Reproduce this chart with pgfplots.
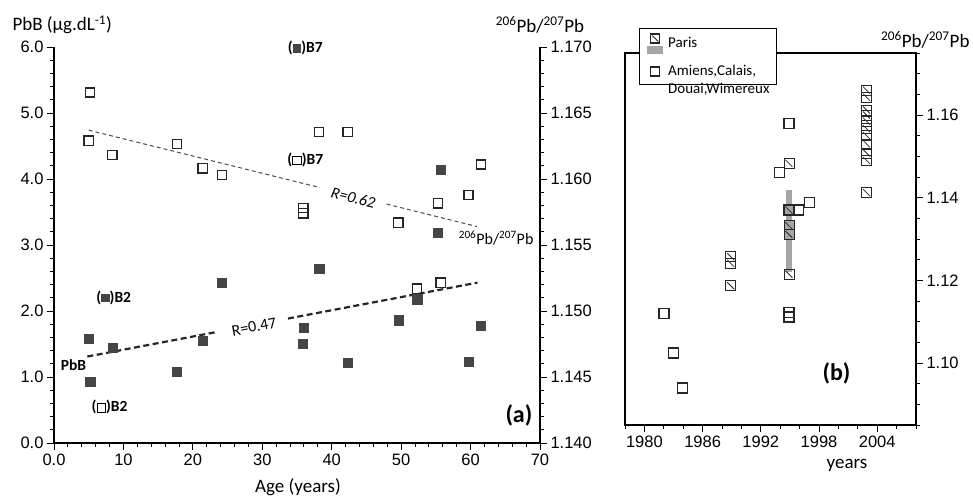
\documentclass[border=0pt]{standalone}
\usepackage{pgfplots}
\pgfplotsset{compat=1.18}
\usepackage{fontspec}
\setmainfont{Carlito}
\newfontfamily\ticksfont{Liberation Sans}
\definecolor{sqgray}{HTML}{454545}
\definecolor{bargray}{HTML}{A6A6A6}
\newcommand\fsq{\textcolor{sqgray}{\rule{8.5pt}{8.5pt}}}
\newcommand\osq{{\setlength\fboxsep{0pt}\setlength\fboxrule{1pt}\fbox{\rule{0pt}{7.5pt}\rule{7.5pt}{0pt}}}}
\newcommand\ratio{\textsuperscript{206}Pb/\textsuperscript{207}Pb}
\pgfdeclareplotmark{hsq}{%
  \pgfpathrectangle{\pgfqpoint{-\pgfplotmarksize}{-\pgfplotmarksize}}{\pgfqpoint{2\pgfplotmarksize}{2\pgfplotmarksize}}%
  \pgfusepathqstroke
  \pgfsetlinewidth{0.8pt}%
  \pgfpathmoveto{\pgfqpoint{-0.7\pgfplotmarksize}{0.7\pgfplotmarksize}}%
  \pgfpathlineto{\pgfqpoint{0.7\pgfplotmarksize}{-0.7\pgfplotmarksize}}%
  \pgfusepathqstroke}
\pgfdeclareplotmark{hsqf}{%
  \pgfpathrectangle{\pgfqpoint{-\pgfplotmarksize}{-\pgfplotmarksize}}{\pgfqpoint{2\pgfplotmarksize}{2\pgfplotmarksize}}%
  \pgfusepathqfillstroke
  \pgfsetlinewidth{0.8pt}%
  \pgfpathmoveto{\pgfqpoint{-0.7\pgfplotmarksize}{0.7\pgfplotmarksize}}%
  \pgfpathlineto{\pgfqpoint{0.7\pgfplotmarksize}{-0.7\pgfplotmarksize}}%
  \pgfusepathqstroke}
\pgfplotsset{
  myaxis/.style={
    scale only axis, tick align=outside,
    major tick length=7pt, minor tick length=4pt,
    every tick/.style={black, line width=0.9pt},
    axis line style={black, line width=1.2pt, -},
    tick label style={font=\ticksfont\fontsize{16.5}{18}\selectfont},
    /pgf/number format/assume math mode=true,
  }
}
\begin{document}
\begin{tikzpicture}
\useasboundingbox (0,0) rectangle (973pt,498pt);
% ---------------- panel (a), left axis: PbB
\begin{axis}[myaxis, at={(54pt,55pt)}, anchor=south west, width=486pt, height=396pt,
  xmin=0, xmax=70, ymin=0, ymax=6,
  axis x line*=bottom, axis y line*=left,
  xtick={0,10,20,30,40,50,60,70}, xticklabels={0.0,10,20,30,40,50,60,70},
  minor x tick num=4,
  ytick={0,1,2,3,4,5,6}, minor y tick num=4,
  yticklabel style={/pgf/number format/fixed, /pgf/number format/fixed zerofill, /pgf/number format/precision=1},
  clip=false]
\addplot[only marks, mark=square*, mark size=4.6pt, mark options={fill=sqgray, draw=sqgray}]
  coordinates {(5.0,1.58) (5.2,0.93) (8.4,1.45) (17.7,1.08) (21.4,1.55) (24.2,2.43)
  (38.2,2.64) (36.0,1.75) (35.8,1.51) (42.3,1.22) (49.6,1.86) (52.3,2.18)
  (55.3,3.19) (55.7,4.14) (59.7,1.23) (61.5,1.78)};
\addplot[black!85, line width=2.2pt, dash pattern=on 6pt off 3.5pt] coordinates {(4.8,1.31) (23.4,1.681)};
\addplot[black!85, line width=2.2pt, dash pattern=on 6pt off 3.5pt] coordinates {(33.7,1.886) (61.0,2.43)};
\node[font=\fontsize{15.5}{18}\selectfont\bfseries] at (axis cs:36.2,5.98) {(\fsq)B7};
\node[font=\fontsize{15.5}{18}\selectfont\bfseries] at (axis cs:36.2,4.29) {(\osq)B7};
\node[font=\fontsize{15.5}{18}\selectfont\bfseries] at (axis cs:8.6,2.20) {(\fsq)B2};
\node[font=\fontsize{15.5}{18}\selectfont\bfseries] at (axis cs:8.0,0.545) {(\osq)B2};
\node[font=\fontsize{15.5}{18}\selectfont\bfseries] at (axis cs:2.8,1.18) {PbB};
\node[rotate=10.7, inner sep=1pt, font=\fontsize{16}{18}\selectfont] at (axis cs:28.8,1.76) {R=0.47};
\node[rotate=-14, inner sep=0pt, font=\fontsize{16}{18}\selectfont\itshape] at (axis cs:43.1,3.72) {R=0.62};
\node[anchor=west, font=\fontsize{16}{18}\selectfont] at (axis cs:57.8,3.11) {\ratio};
\node[anchor=east, font=\fontsize{24}{26}\selectfont\bfseries] at (axis cs:69.4,0.42) {(a)};
\end{axis}
% ---------------- panel (a), right axis: 206Pb/207Pb
\begin{axis}[myaxis, at={(54pt,55pt)}, anchor=south west, width=486pt, height=396pt,
  xmin=0, xmax=70, ymin=1.140, ymax=1.170,
  axis x line=none, axis y line*=right,
  ytick={1.140,1.145,1.150,1.155,1.160,1.165,1.170}, minor y tick num=4,
  yticklabel style={/pgf/number format/fixed, /pgf/number format/fixed zerofill, /pgf/number format/precision=3},
  clip=false]
\addplot[only marks, mark=square, mark size=4.6pt, mark options={draw=black!85, line width=1.3pt}]
  coordinates {(5.2,1.16655) (5.0,1.1629) (8.4,1.1618) (17.7,1.16265) (21.4,1.1608) (24.2,1.1603)
  (38.2,1.16355) (42.3,1.16355) (35.9,1.1578) (35.9,1.1574) (49.6,1.1567) (55.3,1.15815)
  (59.7,1.1588) (61.5,1.1611) (52.3,1.1517) (55.7,1.15215)};
\addplot[black!70, line width=1pt, dash pattern=on 4pt off 3pt] coordinates {(5.0,1.1637) (38.3,1.15935)};
\addplot[black!70, line width=1pt, dash pattern=on 4pt off 3pt] coordinates {(47.9,1.1581) (60.9,1.1564)};
\end{axis}
% ---------------- panel (b)
\begin{axis}[myaxis, at={(625pt,73pt)}, anchor=south west, width=291pt, height=372pt,
  xmin=1978, xmax=2008, ymin=1.085, ymax=1.175,
  xtick={1980,1986,1992,1998,2004}, xticklabels={1980,1986,1992,1998,2004},
  minor xtick={1978,1982,1984,1988,1990,1994,1996,2000,2002,2006,2008},
  xtick pos=lower, ytick pos=right,
  ytick={1.10,1.12,1.14,1.16},
  minor ytick={1.085,1.09,1.095,1.105,1.11,1.115,1.125,1.13,1.135,1.145,1.15,1.155,1.165,1.17,1.175},
  yticklabel style={/pgf/number format/fixed, /pgf/number format/fixed zerofill, /pgf/number format/precision=2},
  legend style={at={(0.048,1.067)}, anchor=north west, draw=black, line width=0.8pt, fill=white,
    font=\fontsize{15}{18}\selectfont, row sep=10pt, inner xsep=5pt, inner ysep=5pt},
  legend cell align=left,
  clip=false]
\addplot[bargray, line width=6pt, forget plot] coordinates {(1994.9,1.1221) (1994.9,1.1419)};
\addplot[only marks, mark=hsq, mark size=5pt, mark options={draw=black!85, line width=1.4pt},
  legend image code/.code={
    \path (0pt,0pt) (21pt,0pt);
    \fill[bargray, overlay] (3pt,-3pt) rectangle (18pt,-10pt);
    \draw[black!85, line width=1.2pt] (6pt,0pt) rectangle (15pt,9pt);
    \draw[black!85, line width=0.8pt] (7.5pt,7.5pt) -- (13.5pt,1.5pt);}]
  coordinates {(1988.9,1.1257) (1988.9,1.1241) (1988.9,1.1187) (1994.9,1.1483) (1994.9,1.1215)
  (2002.9,1.1660) (2002.9,1.1643) (2002.9,1.1612) (2002.9,1.1600) (2002.9,1.1585) (2002.9,1.1567)
  (2002.9,1.1550) (2002.9,1.1530) (2002.9,1.1508) (2002.9,1.1490) (2002.9,1.1412)};
\addlegendentry{Paris}
\addplot[only marks, mark=hsqf, mark size=5pt, mark options={draw=black!85, fill=bargray, line width=1.4pt}, forget plot]
  coordinates {(1994.9,1.1370) (1994.9,1.1332) (1994.9,1.1311)};
\addplot[only marks, mark=square, mark size=5pt, mark options={draw=black!85, line width=1.4pt},
  legend image code/.code={
    \path (0pt,0pt) (21pt,0pt);
    \draw[black!85, line width=1.2pt] (6pt,-6pt) rectangle (15pt,3pt);}]
  coordinates {(1982.0,1.1120) (1983.0,1.1024) (1983.9,1.0940) (1994.9,1.1122) (1994.9,1.1111)
  (1994.9,1.1580) (1993.9,1.1461) (1995.9,1.1370) (1997.0,1.1389)};
\addlegendentry{\begin{tabular}[t]{@{}l@{}}Amiens,Calais,\\Douai,Wimereux\end{tabular}}
\node[font=\fontsize{24}{26}\selectfont\bfseries] at (axis cs:1999.8,1.0976) {(b)};
\end{axis}
% ---------------- titles
\node[anchor=west, font=\fontsize{19}{22}\selectfont] at (9pt,473pt) {PbB (µg.dL\textsuperscript{-1})};
\node[font=\fontsize{19}{22}\selectfont] at (540pt,473pt) {\ratio};
\node[font=\fontsize{19}{22}\selectfont] at (298pt,11pt) {Age (years)};
\node[anchor=east, font=\fontsize{19}{22}\selectfont] at (973pt,458pt) {\ratio};
\node[font=\fontsize{19}{22}\selectfont] at (847pt,33pt) {years};
\end{tikzpicture}
\end{document}
